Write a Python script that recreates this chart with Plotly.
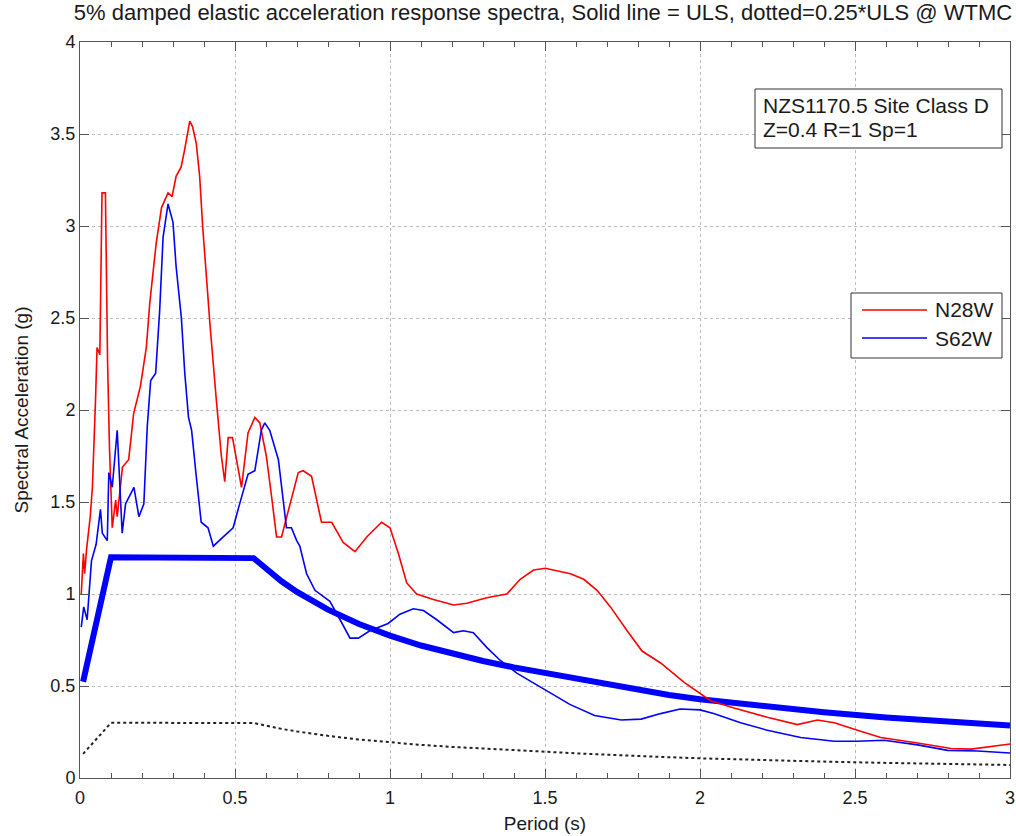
import plotly.graph_objects as go

# ---------------- data ----------------
n28w_T = [0.004, 0.011, 0.015, 0.021, 0.033, 0.040, 0.050, 0.055, 0.064, 0.071, 0.082, 0.085,
          0.089, 0.095, 0.104, 0.115, 0.120, 0.137, 0.157, 0.173, 0.195, 0.214, 0.225, 0.246,
          0.263, 0.284, 0.297, 0.310, 0.326, 0.337, 0.354, 0.363, 0.375, 0.386, 0.396, 0.412,
          0.419, 0.440, 0.456, 0.467, 0.478, 0.492, 0.510, 0.521, 0.542, 0.564, 0.580, 0.601,
          0.618, 0.634, 0.650, 0.677, 0.704, 0.720, 0.747, 0.779, 0.812, 0.849, 0.887, 0.925,
          0.973, 1.000, 1.027, 1.054, 1.086, 1.140, 1.205, 1.248, 1.312, 1.377, 1.420, 1.463,
          1.501, 1.582, 1.625, 1.668, 1.711, 1.765, 1.813, 1.873, 1.949, 2.034, 2.110, 2.217,
          2.314, 2.379, 2.433, 2.508, 2.583, 2.702, 2.810, 2.875, 2.940, 3.000]
n28w_Sa = [1.00, 1.22, 1.11, 1.24, 1.42, 1.58, 2.05, 2.34, 2.30, 3.18, 3.18, 2.74,
           2.26, 1.80, 1.36, 1.51, 1.42, 1.69, 1.73, 1.98, 2.13, 2.34, 2.58, 2.91,
           3.10, 3.18, 3.16, 3.27, 3.32, 3.41, 3.57, 3.54, 3.45, 3.27, 2.99, 2.63,
           2.47, 2.05, 1.75, 1.61, 1.85, 1.85, 1.67, 1.58, 1.875, 1.96, 1.93, 1.75,
           1.53, 1.31, 1.31, 1.49, 1.66, 1.67, 1.64, 1.39, 1.39, 1.28, 1.23, 1.31,
           1.39, 1.36, 1.22, 1.06, 1.00, 0.97, 0.94, 0.95, 0.98, 1.00, 1.08, 1.13,
           1.14, 1.11, 1.08, 1.02, 0.93, 0.80, 0.69, 0.625, 0.52, 0.42, 0.38, 0.33,
           0.29, 0.315, 0.30, 0.26, 0.22, 0.19, 0.16, 0.157, 0.17, 0.185]

s62w_T = [0.004, 0.012, 0.023, 0.028, 0.037, 0.052, 0.066, 0.072, 0.088, 0.093, 0.104, 0.120,
          0.125, 0.136, 0.147, 0.174, 0.190, 0.206, 0.217, 0.228, 0.244, 0.257, 0.268, 0.284,
          0.300, 0.310, 0.327, 0.338, 0.350, 0.360, 0.375, 0.391, 0.413, 0.430, 0.462, 0.494,
          0.515, 0.542, 0.564, 0.585, 0.596, 0.612, 0.640, 0.666, 0.682, 0.699, 0.709, 0.731,
          0.758, 0.806, 0.839, 0.871, 0.898, 0.935, 0.994, 1.032, 1.075, 1.108, 1.151, 1.205,
          1.237, 1.269, 1.312, 1.355, 1.409, 1.501, 1.580, 1.660, 1.746, 1.810, 1.873, 1.936,
          2.000, 2.044, 2.131, 2.217, 2.325, 2.433, 2.508, 2.594, 2.702, 2.799, 2.896, 3.000]
s62w_Sa = [0.82, 0.93, 0.86, 0.97, 1.18, 1.27, 1.46, 1.33, 1.29, 1.66, 1.58, 1.89,
           1.73, 1.33, 1.49, 1.58, 1.42, 1.49, 1.91, 2.16, 2.20, 2.54, 2.94, 3.12,
           3.02, 2.78, 2.50, 2.20, 1.96, 1.89, 1.64, 1.39, 1.36, 1.26, 1.31, 1.36,
           1.49, 1.65, 1.67, 1.89, 1.93, 1.89, 1.73, 1.36, 1.36, 1.29, 1.26, 1.11,
           1.02, 0.96, 0.86, 0.76, 0.76, 0.80, 0.84, 0.89, 0.92, 0.91, 0.86, 0.79,
           0.80, 0.79, 0.71, 0.64, 0.57, 0.48, 0.40, 0.34, 0.315, 0.32, 0.35, 0.375,
           0.37, 0.35, 0.30, 0.26, 0.22, 0.20, 0.20, 0.205, 0.18, 0.15, 0.147, 0.136]

uls_T = [0.01, 0.1, 0.56, 0.6, 0.65, 0.7, 0.75, 0.8, 0.9, 1.0, 1.1, 1.2, 1.3, 1.4, 1.5,
         1.6, 1.7, 1.8, 1.9, 2.0, 2.2, 2.4, 2.6, 2.8, 3.0]
uls_Sa = [0.523, 1.2, 1.195, 1.135, 1.069, 1.011, 0.96, 0.915, 0.837, 0.774, 0.720, 0.675,
          0.636, 0.601, 0.571, 0.535, 0.504, 0.476, 0.451, 0.428, 0.389, 0.357, 0.329,
          0.306, 0.285]
sls_Sa = [0.131, 0.30, 0.299, 0.284, 0.267, 0.253, 0.24, 0.229, 0.209, 0.194, 0.18, 0.169,
          0.159, 0.150, 0.143, 0.134, 0.126, 0.119, 0.113, 0.107, 0.097, 0.089, 0.082,
          0.077, 0.071]

x_ticks = [0, 0.5, 1, 1.5, 2, 2.5, 3]
x_labels = ["0", "0.5", "1", "1.5", "2", "2.5", "3"]
y_ticks = [0, 0.5, 1, 1.5, 2, 2.5, 3, 3.5, 4]
y_labels = ["0", "0.5", "1", "1.5", "2", "2.5", "3", "3.5", "4"]

title_text = "5% damped elastic acceleration response spectra, Solid line = ULS, dotted=0.25*ULS @ WTMC"
box_lines = ["NZS1170.5 Site Class D", "Z=0.4 R=1 Sp=1"]
series_names = ["N28W", "S62W"]
series_colors = ["#ff0000", "#0000ff"]

# ---------------- figure ----------------
W, H = 1016, 836
L, R, T, B = 80, 6, 42, 58
PW, PH = W - L - R, H - T - B

def px(x):
    return (x - L) / PW

def py(y):
    return (H - B - y) / PH

FONT = "Liberation Sans, Arial, sans-serif"
TXT = "#1a1a1a"

fig = go.Figure()
fig.add_trace(go.Scatter(x=uls_T, y=sls_Sa, mode="lines", showlegend=False,
                         line=dict(color="#222222", width=2, dash="dot")))
fig.add_trace(go.Scatter(x=uls_T, y=uls_Sa, mode="lines", showlegend=False,
                         line=dict(color="#0000ff", width=6)))
fig.add_trace(go.Scatter(x=n28w_T, y=n28w_Sa, mode="lines", name=series_names[0],
                         showlegend=False, line=dict(color=series_colors[0], width=1.6)))
fig.add_trace(go.Scatter(x=s62w_T, y=s62w_Sa, mode="lines", name=series_names[1],
                         showlegend=False, line=dict(color=series_colors[1], width=1.6)))

axis_common = dict(
    showline=True, linecolor="#555555", linewidth=1, mirror="ticks",
    ticks="inside", tickcolor="#555555", ticklen=9, tickwidth=1,
    showgrid=True, gridcolor="#bcbcbc", griddash="dot", gridwidth=1,
    zeroline=False, automargin=False,
    tickfont=dict(family=FONT, size=18, color=TXT),
)

fig.update_xaxes(range=[0, 3], tickvals=x_ticks, ticktext=x_labels, ticklabelstandoff=3,
                 title=dict(text="Period (s)", font=dict(family=FONT, size=19, color=TXT), standoff=10),
                 minor=dict(ticks="inside", dtick=0.1, tick0=0, ticklen=5, tickcolor="#555555", showgrid=False),
                 **axis_common)
fig.update_yaxes(range=[0, 4], tickvals=y_ticks, ticktext=y_labels,
                 title=dict(text="Spectral Acceleration (g)", font=dict(family=FONT, size=19, color=TXT), standoff=16),
                 **axis_common)

shapes = []
annotations = []
# info box
shapes.append(dict(type="rect", xref="paper", yref="paper", x0=px(755), x1=px(1002), y0=py(148), y1=py(89),
                   line=dict(color="#333333", width=1), fillcolor="white", layer="above"))
for i, t in enumerate(box_lines):
    annotations.append(dict(xref="paper", yref="paper", x=px(761), y=py(105 + 24 * i), text=t, showarrow=False,
                            xanchor="left", yanchor="middle", font=dict(family=FONT, size=21, color=TXT)))
# legend box
shapes.append(dict(type="rect", xref="paper", yref="paper", x0=px(851), x1=px(1002), y0=py(358), y1=py(293),
                   line=dict(color="#333333", width=1), fillcolor="white", layer="above"))
for i, (nm, c) in enumerate(zip(series_names, series_colors)):
    yy = 310 + 28 * i
    shapes.append(dict(type="line", xref="paper", yref="paper", x0=px(862), x1=px(927), y0=py(yy), y1=py(yy),
                       line=dict(color=c, width=1.6), layer="above"))
    annotations.append(dict(xref="paper", yref="paper", x=px(933), y=py(yy), text=nm, showarrow=False,
                            xanchor="left", yanchor="middle", font=dict(family=FONT, size=21, color=TXT)))

fig.update_layout(
    width=W, height=H, margin=dict(l=L, r=R, t=T, b=B),
    paper_bgcolor="white", plot_bgcolor="white",
    title=dict(text=title_text, x=px(543), xanchor="center", xref="paper",
               y=1 - 12 / H, yref="container", yanchor="middle",
               font=dict(family=FONT, size=22, color=TXT)),
    shapes=shapes, annotations=annotations, showlegend=False,
)

fig.write_html("out.html", config={"displayModeBar": False},
               post_script="document.body.style.margin='0px';document.body.style.overflow='hidden';")
